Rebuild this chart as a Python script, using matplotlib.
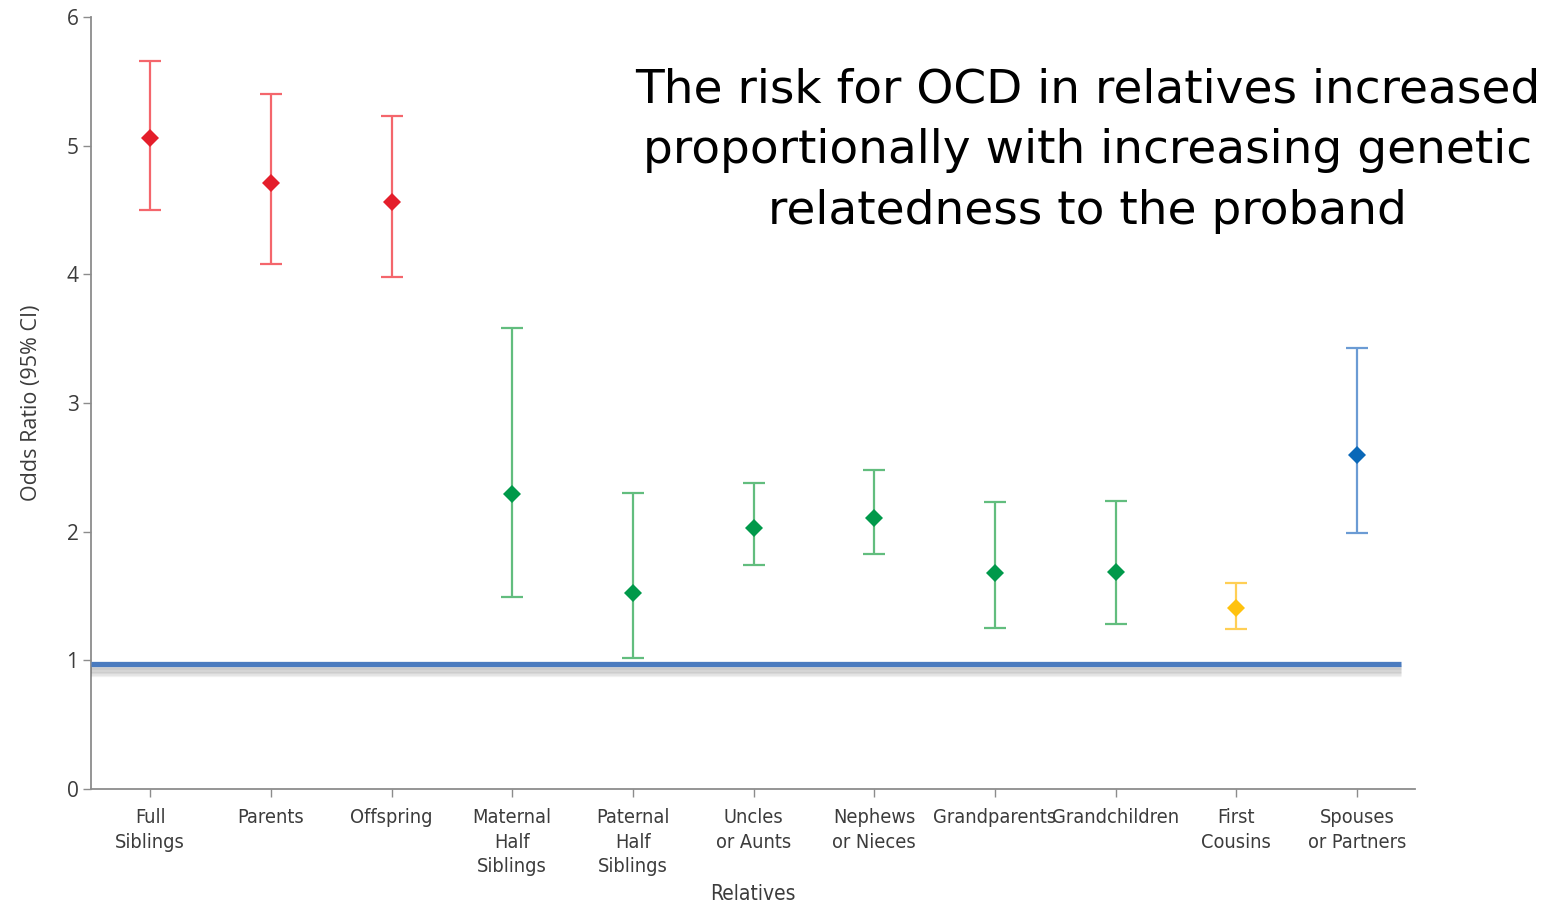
import matplotlib.pyplot as plt
import matplotlib.patheffects as pe
import numpy as np

relatives = [
    "Full\nSiblings",
    "Parents",
    "Offspring",
    "Maternal\nHalf\nSiblings",
    "Paternal\nHalf\nSiblings",
    "Uncles\nor Aunts",
    "Nephews\nor Nieces",
    "Grandparents",
    "Grandchildren",
    "First\nCousins",
    "Spouses\nor Partners",
]
odds_ratio = [5.06, 4.71, 4.56, 2.29, 1.52, 2.03, 2.11, 1.68, 1.69, 1.41, 2.60]
ci_low = [4.50, 4.08, 3.98, 1.49, 1.02, 1.74, 1.83, 1.25, 1.28, 1.24, 1.99]
ci_high = [5.66, 5.40, 5.23, 3.58, 2.30, 2.38, 2.48, 2.23, 2.24, 1.60, 3.43]
groups = ["first", "first", "first", "second", "second", "second",
          "second", "second", "second", "third", "spouse"]

ref_line_y = 0.97
y_ticks = [0, 1, 2, 3, 4, 5, 6]

marker_colors = {"first": "#e41e2b", "second": "#00994a",
                 "third": "#ffc20e", "spouse": "#0a68b8"}
bar_colors = {"first": "#f4666c", "second": "#62bd7e",
              "third": "#ffcf55", "spouse": "#6b9bd4"}

fig = plt.figure(figsize=(15.56, 9.06), dpi=100)
ax = fig.add_axes([0.0585, 0.1291, 0.8509, 0.8521])

x = np.arange(len(relatives))
for i in x:
    g = groups[i]
    ax.errorbar(
        x[i], odds_ratio[i],
        yerr=[[odds_ratio[i] - ci_low[i]], [ci_high[i] - odds_ratio[i]]],
        fmt="none", ecolor=bar_colors[g], elinewidth=1.6,
        capsize=8, capthick=1.6, zorder=3,
    )
    ax.plot(x[i], odds_ratio[i], marker="D", markersize=9.5,
            color=marker_colors[g], markeredgewidth=0, zorder=4)

# reference line with a soft drop shadow underneath
shadow = [pe.SimpleLineShadow(offset=(0, -k), shadow_color="#000000",
                              alpha=0.05, rho=1) for k in (1, 2, 3, 4, 5, 6, 7)]
ax.plot([-0.49, 10.36], [ref_line_y, ref_line_y], color="#4a7bbf",
        linewidth=3.8, solid_capstyle="butt", zorder=5,
        path_effects=shadow + [pe.Normal()], clip_on=False)

ax.set_xlim(-0.49, 10.48)
ax.set_ylim(0, 6)
ax.set_yticks(y_ticks)
ax.set_xticks(x)
ax.set_xticklabels(relatives, family="DejaVu Sans", stretch="condensed",
                   fontsize=14.3, color="#3c3c3c", linespacing=1.35)
ax.set_yticklabels([str(t) for t in y_ticks], fontsize=15, color="#3c3c3c",
                   family=["Open Sans", "DejaVu Sans"])
ax.tick_params(axis="both", direction="out", length=6, width=1, color="#8c8c8c")
ax.tick_params(axis="x", pad=8)
ax.tick_params(axis="y", pad=3)

for side in ["top", "right"]:
    ax.spines[side].set_visible(False)
for side in ["left", "bottom"]:
    ax.spines[side].set_color("#8c8c8c")
    ax.spines[side].set_linewidth(1.3)

ax.set_ylabel("Odds Ratio (95% CI)", fontsize=15.5, color="#3c3c3c",
              family=["Open Sans", "DejaVu Sans"], labelpad=18)
ax.set_xlabel("Relatives", family="DejaVu Sans", stretch="condensed",
              fontsize=15, color="#3c3c3c", labelpad=6)

fig.text(0.699, 0.834,
         "The risk for OCD in relatives increased\n"
         "proportionally with increasing genetic\n"
         "relatedness to the proband",
         ha="center", va="center", fontsize=33.8, color="black",
         linespacing=1.45)

plt.savefig("out.png", dpi=100)
